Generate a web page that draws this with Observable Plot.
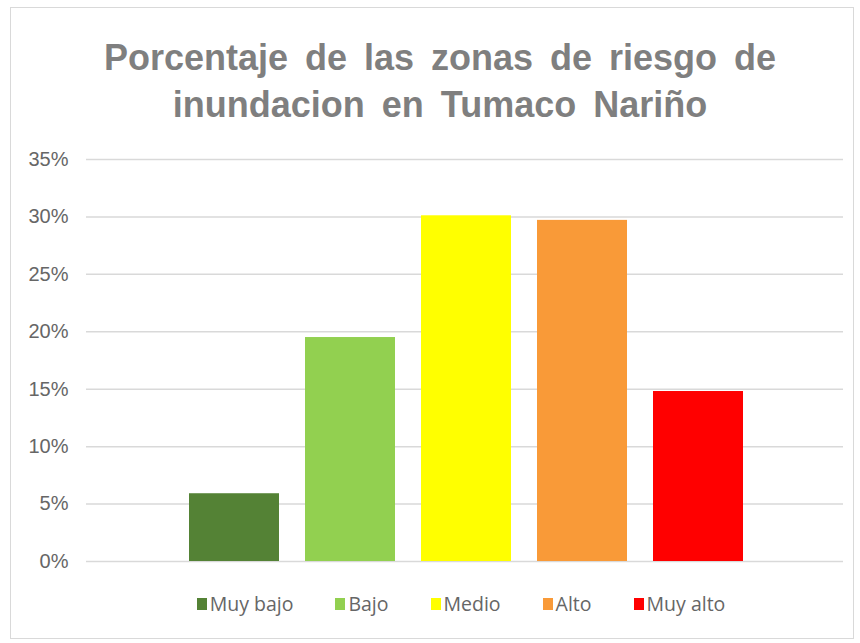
<!DOCTYPE html>
<html>
<head>
<meta charset="utf-8">
<script src="https://cdn.jsdelivr.net/npm/d3@7"></script>
<script src="https://cdn.jsdelivr.net/npm/@observablehq/plot@0.6"></script>
<style>
  html, body { margin: 0; padding: 0; background: #fff; width: 860px; height: 643px; overflow: hidden; }
  #frame { position: absolute; left: 10px; top: 7px; width: 844px; height: 632px; border: 1px solid #d9d9d9; box-sizing: border-box; }
  #title { position: absolute; left: 10px; top: 34px; width: 860px; text-align: center; font-family: "Liberation Sans", Arial, sans-serif; font-weight: bold; font-size: 36px; line-height: 47px; color: #7f7f7f; word-spacing: 7px; }
  #chart { position: absolute; left: 0; top: 140px; }
  #legend { position: absolute; left: 0; top: 590px; width: 922px; display: flex; justify-content: center; gap: 42px; font-family: "Open Sans", Lato, sans-serif; font-size: 19.5px; color: #666; }
  .item { display: flex; align-items: center; }
  .sw { width: 10px; height: 12px; margin-right: 3px; }
</style>
</head>
<body>
<div id="frame"></div>
<div id="title">Porcentaje de las zonas de riesgo de<br>inundacion en Tumaco Nariño</div>
<div id="chart"></div>
<div id="legend"></div>
<script>
const categories = ["Muy bajo", "Bajo", "Medio", "Alto", "Muy alto"];
const values = [5.9, 19.5, 30.1, 29.7, 14.8];
const colors = ["#548235", "#92d050", "#ffff00", "#f99a38", "#ff0000"];
const yTicks = [0, 5, 10, 15, 20, 25, 30, 35];

const data = categories.map((c, i) => ({cat: c, value: values[i]}));

const chart = Plot.plot({
  width: 860,
  height: 440,
  marginLeft: 86,
  marginRight: 17,
  marginTop: 19,
  marginBottom: 19,
  style: {background: "transparent", fontFamily: "'Liberation Sans', Arial, sans-serif"},
  x: {domain: categories, range: [188, 744], paddingInner: 0.227, paddingOuter: 0, axis: null},
  y: {domain: [0, 35], axis: null},
  color: {domain: categories, range: colors},
  marks: [
    Plot.ruleY(yTicks, {stroke: "#d9d9d9", strokeWidth: 1.5}),
    Plot.barY(data, {x: "cat", y: "value", fill: "cat"}),
    Plot.axisY(yTicks, {tickSize: 0, tickPadding: 18, tickFormat: d => d + "%", fontSize: 20, color: "#666", label: null})
  ]
});
document.getElementById("chart").appendChild(chart);

const legend = document.getElementById("legend");
categories.forEach((c, i) => {
  const it = document.createElement("div");
  it.className = "item";
  const sw = document.createElement("span");
  sw.className = "sw";
  sw.style.background = colors[i];
  const t = document.createElement("span");
  t.textContent = c;
  it.appendChild(sw);
  it.appendChild(t);
  legend.appendChild(it);
});
</script>
</body>
</html>
